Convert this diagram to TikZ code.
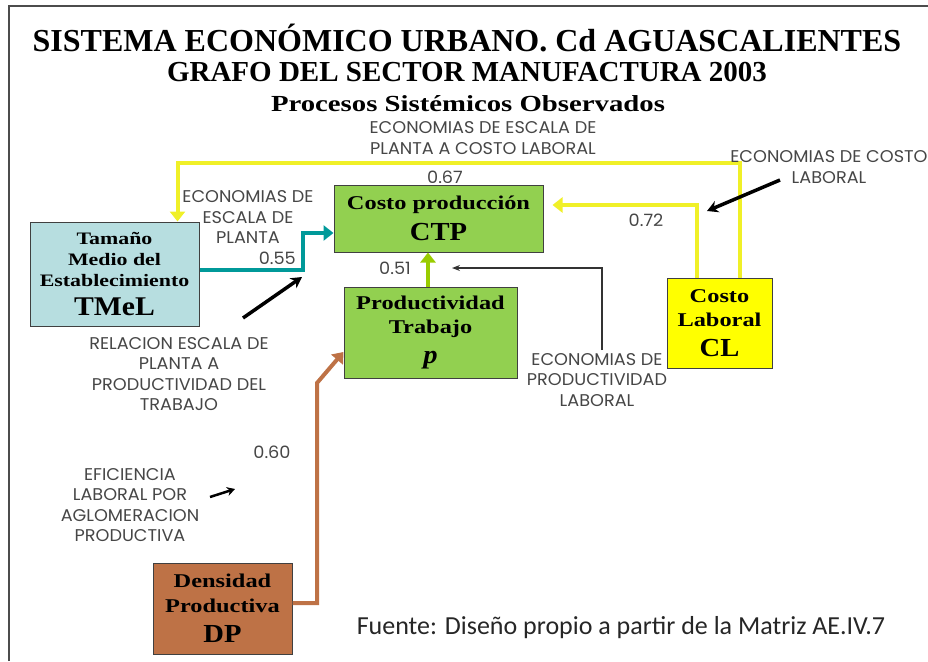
\documentclass[tikz,border=0pt]{standalone}
\usepackage{fontspec}
\setmainfont{Liberation Serif}
\setsansfont{Poppins}[FakeStretch=1.04]
\newfontfamily\titlefont{Liberation Serif}
\newfontfamily\boxfont{Liberation Serif}[FakeStretch=1.25]
\newfontfamily\labelfont{Liberation Serif}[FakeStretch=1.1]
\newfontfamily\sourcefont{Carlito}
\usetikzlibrary{positioning, arrows.meta}

\definecolor{notegray}{RGB}{70,70,70}
\definecolor{tmelblue}{RGB}{183,222,224}
\definecolor{ctpgreen}{RGB}{146,208,80}
\definecolor{clyellow}{RGB}{255,255,0}
\definecolor{dpbrown}{RGB}{190,114,70}
\definecolor{yellowline}{RGB}{240,240,40}
\definecolor{tealline}{RGB}{0,153,153}
\definecolor{limeline}{RGB}{153,204,0}

\newcommand{\biglabel}[1]{{\labelfont\bfseries\fontsize{26}{26}\selectfont #1}}

\begin{document}
\begin{tikzpicture}[
    x=1pt, y=-1pt,
    box/.style={draw=black!75, line width=1pt, align=center, inner sep=0pt,
        font=\boxfont\bfseries\fontsize{19.5}{24.5}\selectfont},
    note/.style={font=\sffamily\fontsize{17}{20.5}\selectfont, text=notegray,
        align=center, inner sep=0pt},
    val/.style={font=\sffamily\fontsize{17}{20}\selectfont, text=notegray, inner sep=0pt},
    link/.style={line width=4pt, -{Triangle[length=10pt, width=15pt]}},
    pointer/.style={line width=3.5pt, -{Stealth[length=11pt, width=12pt]}},
]
    \useasboundingbox (0,0) rectangle (928,661);
    \draw[black!70, line width=1.2pt] (9,661) -- (9,6) -- (928,6);

    % titles
    \node[font=\titlefont\bfseries\fontsize{32}{32}\selectfont] (title) at (467,38)
        {SISTEMA ECONÓMICO URBANO. Cd AGUASCALIENTES};
    \node[font=\titlefont\bfseries\fontsize{29}{29}\selectfont] (subtitle) at (467,72)
        {GRAFO DEL SECTOR MANUFACTURA 2003};
    \node[font=\boxfont\bfseries\fontsize{23}{23}\selectfont] (process) at (468,104)
        {Procesos Sistémicos Observados};

    % variables
    \node[box, fill=tmelblue, minimum width=169pt, minimum height=104pt,
        font=\boxfont\bfseries\fontsize{17.5}{21}\selectfont] (tmel) at (114.5,274)
        {Tamaño\\Medio del\\Establecimiento\\[8pt]{\labelfont\bfseries\fontsize{27}{27}\selectfont TMeL}};
    \node[box, fill=ctpgreen, minimum width=209pt, minimum height=67pt] (ctp) at (438.5,218.5)
        {Costo producción\\[6.5pt]\biglabel{CTP}};
    \node[box, fill=ctpgreen, minimum width=173pt, minimum height=91pt] (prod) at (430.5,332.5)
        {Productividad\\Trabajo\\[5.5pt]\biglabel{\itshape p}};
    \node[box, fill=clyellow, minimum width=105pt, minimum height=90pt] (cl) at (719.5,323)
        {Costo\\Laboral\\[5.5pt]\biglabel{CL}};
    \node[box, fill=dpbrown, minimum width=139pt, minimum height=91pt] (dp) at (222.5,608.5)
        {Densidad\\Productiva\\[5.5pt]\biglabel{DP}};

    % relations
    \draw[link, yellowline] ([xshift=-33pt]cl.north east) -- ++(0,-115)
        -| ([xshift=148pt]tmel.north west);
    \draw[link, yellowline] ([xshift=30pt]cl.north west)
        |- ([xshift=9pt, yshift=13.5pt]ctp.east);
    \draw[link, tealline] ([yshift=4pt]tmel.east) -| (303,233)
        -- ([yshift=-14.5pt]ctp.west);
    \draw[link, limeline] ([xshift=-2.5pt]prod.north)
        -- ([xshift=-2.5pt]prod.north |- ctp.south);
    \draw[link, dpbrown] ([yshift=5.5pt]dp.east) -| (317,383)
        -- ([yshift=-19.5pt]prod.west);

    \coordinate (plfoot) at (602,350);
    \coordinate (pltip)  at (452,268);
    \draw[black!80, line width=1.3pt, -{Stealth[length=8pt, width=6pt]}] (plfoot) |- (pltip);

    % labels
    \node[note] (escala) at (483,138) {ECONOMIAS DE ESCALA DE\\PLANTA A COSTO LABORAL};
    \node[val] (v67) at (445,177) {0.67};
    \node[note] (planta) at (248,217) {ECONOMIAS DE\\ESCALA DE\\PLANTA};
    \node[val, anchor=east] (v55) at (296,258) {0.55};
    \node[note] (relacion) at (179,374) {RELACION ESCALA DE\\PLANTA A\\PRODUCTIVIDAD DEL\\TRABAJO};
    \node[note] (costo) at (829,167) {ECONOMIAS DE COSTO\\LABORAL};
    \node[val] (v72) at (646,220) {0.72};
    \node[val] (v51) at (395,268) {0.51};
    \node[note] (produc) at (597,380) {ECONOMIAS DE\\PRODUCTIVIDAD\\LABORAL};
    \node[val] (v60) at (272,452) {0.60};
    \node[note] (eficiencia) at (130,505) {EFICIENCIA\\LABORAL POR\\AGLOMERACION\\PRODUCTIVA};
    \node[font=\sourcefont\fontsize{26}{26}\selectfont, text=black!85] (fuente) at (621,628)
        {Fuente: Diseño propio a partir de la Matriz AE.IV.7};

    % pointers
    \coordinate (relfoot) at (243,318);
    \coordinate (reltip)  at (302,277);
    \draw[pointer] (relfoot) -- (reltip);
    \coordinate (costfoot) at (780,180);
    \coordinate (costtip)  at (707,211);
    \draw[pointer] (costfoot) -- (costtip);
    \coordinate (effoot) at (210,497);
    \coordinate (eftip)  at (235,489);
    \draw[line width=2.5pt, -{Stealth[length=8pt, width=9pt]}] (effoot) -- (eftip);
\end{tikzpicture}
\end{document}
